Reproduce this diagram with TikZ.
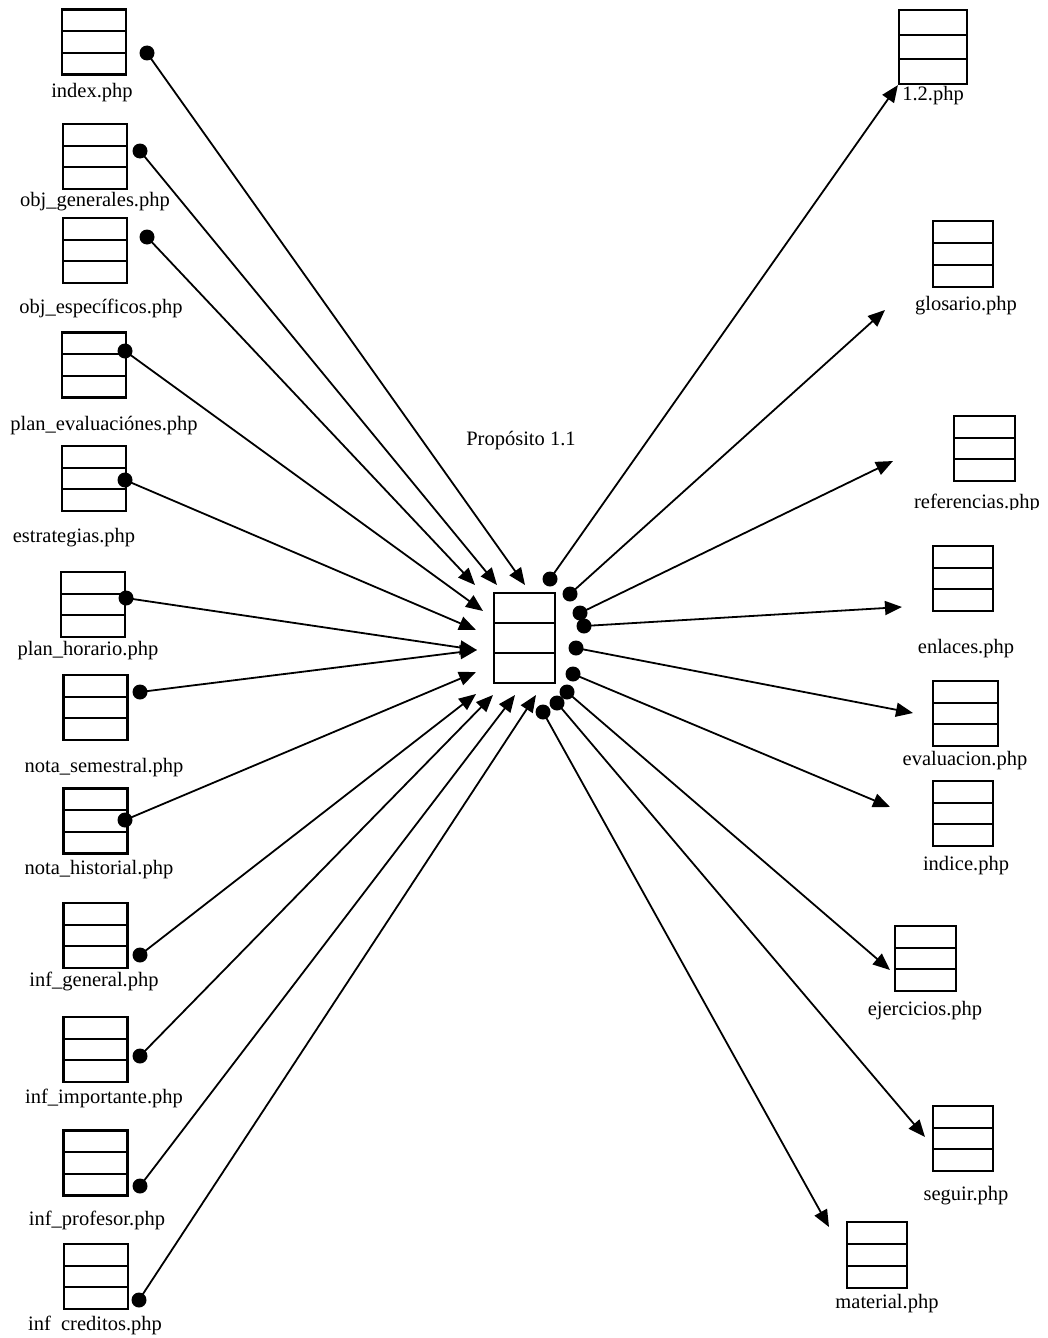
\documentclass[tikz,border=0pt]{standalone}
\usepackage{fontspec}
\setmainfont{Liberation Serif}
\usetikzlibrary{calc,arrows.meta}

\begin{document}
\begin{tikzpicture}[x=1pt,y=-1pt,
    pagebox/.style={draw, line width=2.2pt, inner sep=0pt, minimum width=64pt, minimum height=65pt,
      path picture={
        \draw[line width=2.2pt] ($(path picture bounding box.north west)!1/3!(path picture bounding box.south west)$) -- ($(path picture bounding box.north east)!1/3!(path picture bounding box.south east)$);
        \draw[line width=2.2pt] ($(path picture bounding box.north west)!2/3!(path picture bounding box.south west)$) -- ($(path picture bounding box.north east)!2/3!(path picture bounding box.south east)$);
      }},
    pagename/.style={anchor=base, inner sep=0pt, font=\fontsize{20.5}{24}\selectfont},
    linkdot/.style={circle, fill, inner sep=0pt, minimum size=15pt},
    linkarrow/.style={line width=1.8pt, -{Triangle[length=17pt,width=14pt]}}]
    \useasboundingbox (0,0) rectangle (1048,1338);

    % Central page
    \node[pagebox, minimum width=61pt, minimum height=90pt] (prop) at (524.5,638) {};
    \node[pagename] (prop-l) at (521,445) {Propósito 1.1};

    % Pages on the left
    \node[pagebox] (index) at (94,42) {};
    \node[pagename] (index-l) at (92,97) {index.php};
    \node[pagebox] (objgen) at (95,156.5) {};
    \node[pagename] (objgen-l) at (95,206) {obj\_generales.php};
    \node[pagebox] (objesp) at (95,250.5) {};
    \node[pagename] (objesp-l) at (101,313) {obj\_específicos.php};
    \node[pagebox] (planeval) at (94,365) {};
    \node[pagename] (planeval-l) at (104,430) {plan\_evaluaciónes.php};
    \node[pagebox] (estrat) at (94,478.5) {};
    \node[pagename] (estrat-l) at (74,542) {estrategias.php};
    \node[pagebox] (planhor) at (93,604.5) {};
    \node[pagename] (planhor-l) at (88,655) {plan\_horario.php};
    \node[pagebox] (notasem) at (95.5,707.5) {};
    \node[pagename] (notasem-l) at (104,772) {nota\_semestral.php};
    \node[pagebox] (notahist) at (95.5,821) {};
    \node[pagename] (notahist-l) at (99,874) {nota\_historial.php};
    \node[pagebox] (infgen) at (95.5,935.5) {};
    \node[pagename] (infgen-l) at (94,986) {inf\_general.php};
    \node[pagebox] (infimp) at (95.5,1049.5) {};
    \node[pagename] (infimp-l) at (104,1103) {inf\_importante.php};
    \node[pagebox] (infprof) at (95.5,1163) {};
    \node[pagename] (infprof-l) at (97,1225) {inf\_profesor.php};
    \node[pagebox] (infcred) at (96,1276.5) {};
    \node[pagename] (infcred-l) at (95,1330) {inf\phantom{\_}creditos.php};

    % Pages on the right
    \node[pagebox, minimum width=68pt, minimum height=74pt] (p12) at (933,47) {};
    \node[pagename] (p12-l) at (933,100) {1.2.php};
    \node[pagebox, minimum width=60pt, minimum height=66pt] (glos) at (963,254) {};
    \node[pagename] (glos-l) at (966,310) {glosario.php};
    \node[pagebox, minimum width=61pt] (refs) at (984.5,448.5) {};
    \begin{scope}
      \clip (880,470) rectangle (1048,509);
      \node[pagename] (refs-l) at (977,508) {referencias.php};
    \end{scope}
    \node[pagebox, minimum width=60pt] (enl) at (963,578.5) {};
    \node[pagename] (enl-l) at (966,653) {enlaces.php};
    \node[pagebox, minimum width=65pt] (eval) at (965.5,713.5) {};
    \node[pagename] (eval-l) at (965,765) {evaluacion.php};
    \node[pagebox, minimum width=60pt] (indice) at (963,813.5) {};
    \node[pagename] (indice-l) at (966,870) {indice.php};
    \node[pagebox, minimum width=61pt] (ejer) at (925.5,958.5) {};
    \node[pagename] (ejer-l) at (925,1015) {ejercicios.php};
    \node[pagebox, minimum width=60pt] (seguir) at (963,1138.5) {};
    \node[pagename] (seguir-l) at (966,1200) {seguir.php};
    \node[pagebox, minimum width=60pt, minimum height=66pt] (mat) at (877,1255) {};
    \node[pagename] (mat-l) at (887,1308) {material.php};

    % Link origins
    \node[linkdot] (d-index) at (147,53) {};
    \node[linkdot] (d-objgen) at (140,151) {};
    \node[linkdot] (d-objesp) at (147,237) {};
    \node[linkdot] (d-planeval) at (125,351) {};
    \node[linkdot] (d-estrat) at (125,480) {};
    \node[linkdot] (d-planhor) at (126,598) {};
    \node[linkdot] (d-notasem) at (140,692) {};
    \node[linkdot] (d-notahist) at (125,820) {};
    \node[linkdot] (d-infgen) at (140,955) {};
    \node[linkdot] (d-infimp) at (140,1056) {};
    \node[linkdot] (d-infprof) at (140,1186) {};
    \node[linkdot] (d-infcred) at (139,1300) {};

    \node[linkdot] (d-p12) at (550,579) {};
    \node[linkdot] (d-glos) at (570,594) {};
    \node[linkdot] (d-refs) at (580,613) {};
    \node[linkdot] (d-enl) at (584,626) {};
    \node[linkdot] (d-eval) at (576,648) {};
    \node[linkdot] (d-indice) at (573,674) {};
    \node[linkdot] (d-ejer) at (567,692) {};
    \node[linkdot] (d-seguir) at (557,703) {};
    \node[linkdot] (d-mat) at (543,712) {};

    % Arrow ends round the central page
    \coordinate (t-index) at (525,585);
    \coordinate (t-objgen) at (497,585);
    \coordinate (t-objesp) at (475,585);
    \coordinate (t-planeval) at (483,611);
    \coordinate (t-estrat) at (476,630);
    \coordinate (t-mid) at (477,650);
    \coordinate (t-notahist) at (476,672);
    \coordinate (t-infgen) at (476,694);
    \coordinate (t-infimp) at (493,695);
    \coordinate (t-infprof) at (515,695);
    \coordinate (t-infcred) at (536,695);

    % Arrow ends near the right pages
    \coordinate (t-glos) at (885,310);
    \coordinate (t-refs) at (893,461);
    \coordinate (t-enl) at (902,607);
    \coordinate (t-eval) at (913,713);
    \coordinate (t-indice) at (890,807);
    \coordinate (t-ejer) at (890,970);
    \coordinate (t-seguir) at (925,1137);
    \coordinate (t-mat) at (829,1227);

    % Incoming links
    \draw[linkarrow] (d-index.center) -- (t-index);
    \draw[linkarrow] (d-objgen.center) -- (t-objgen);
    \draw[linkarrow] (d-objesp.center) -- (t-objesp);
    \draw[linkarrow] (d-planeval.center) -- (t-planeval);
    \draw[linkarrow] (d-estrat.center) -- (t-estrat);
    \draw[linkarrow] (d-planhor.center) -- (t-mid);
    \draw[linkarrow] (d-notasem.center) -- (t-mid);
    \draw[linkarrow] (d-notahist.center) -- (t-notahist);
    \draw[linkarrow] (d-infgen.center) -- (t-infgen);
    \draw[linkarrow] (d-infimp.center) -- (t-infimp);
    \draw[linkarrow] (d-infprof.center) -- (t-infprof);
    \draw[linkarrow] (d-infcred.center) -- (t-infcred);

    % Outgoing links
    \draw[linkarrow] (d-p12.center) -- (p12.south west);
    \draw[linkarrow] (d-glos.center) -- (t-glos);
    \draw[linkarrow] (d-refs.center) -- (t-refs);
    \draw[linkarrow] (d-enl.center) -- (t-enl);
    \draw[linkarrow] (d-eval.center) -- (t-eval);
    \draw[linkarrow] (d-indice.center) -- (t-indice);
    \draw[linkarrow] (d-ejer.center) -- (t-ejer);
    \draw[linkarrow] (d-seguir.center) -- (t-seguir);
    \draw[linkarrow] (d-mat.center) -- (t-mat);
\end{tikzpicture}
\end{document}
